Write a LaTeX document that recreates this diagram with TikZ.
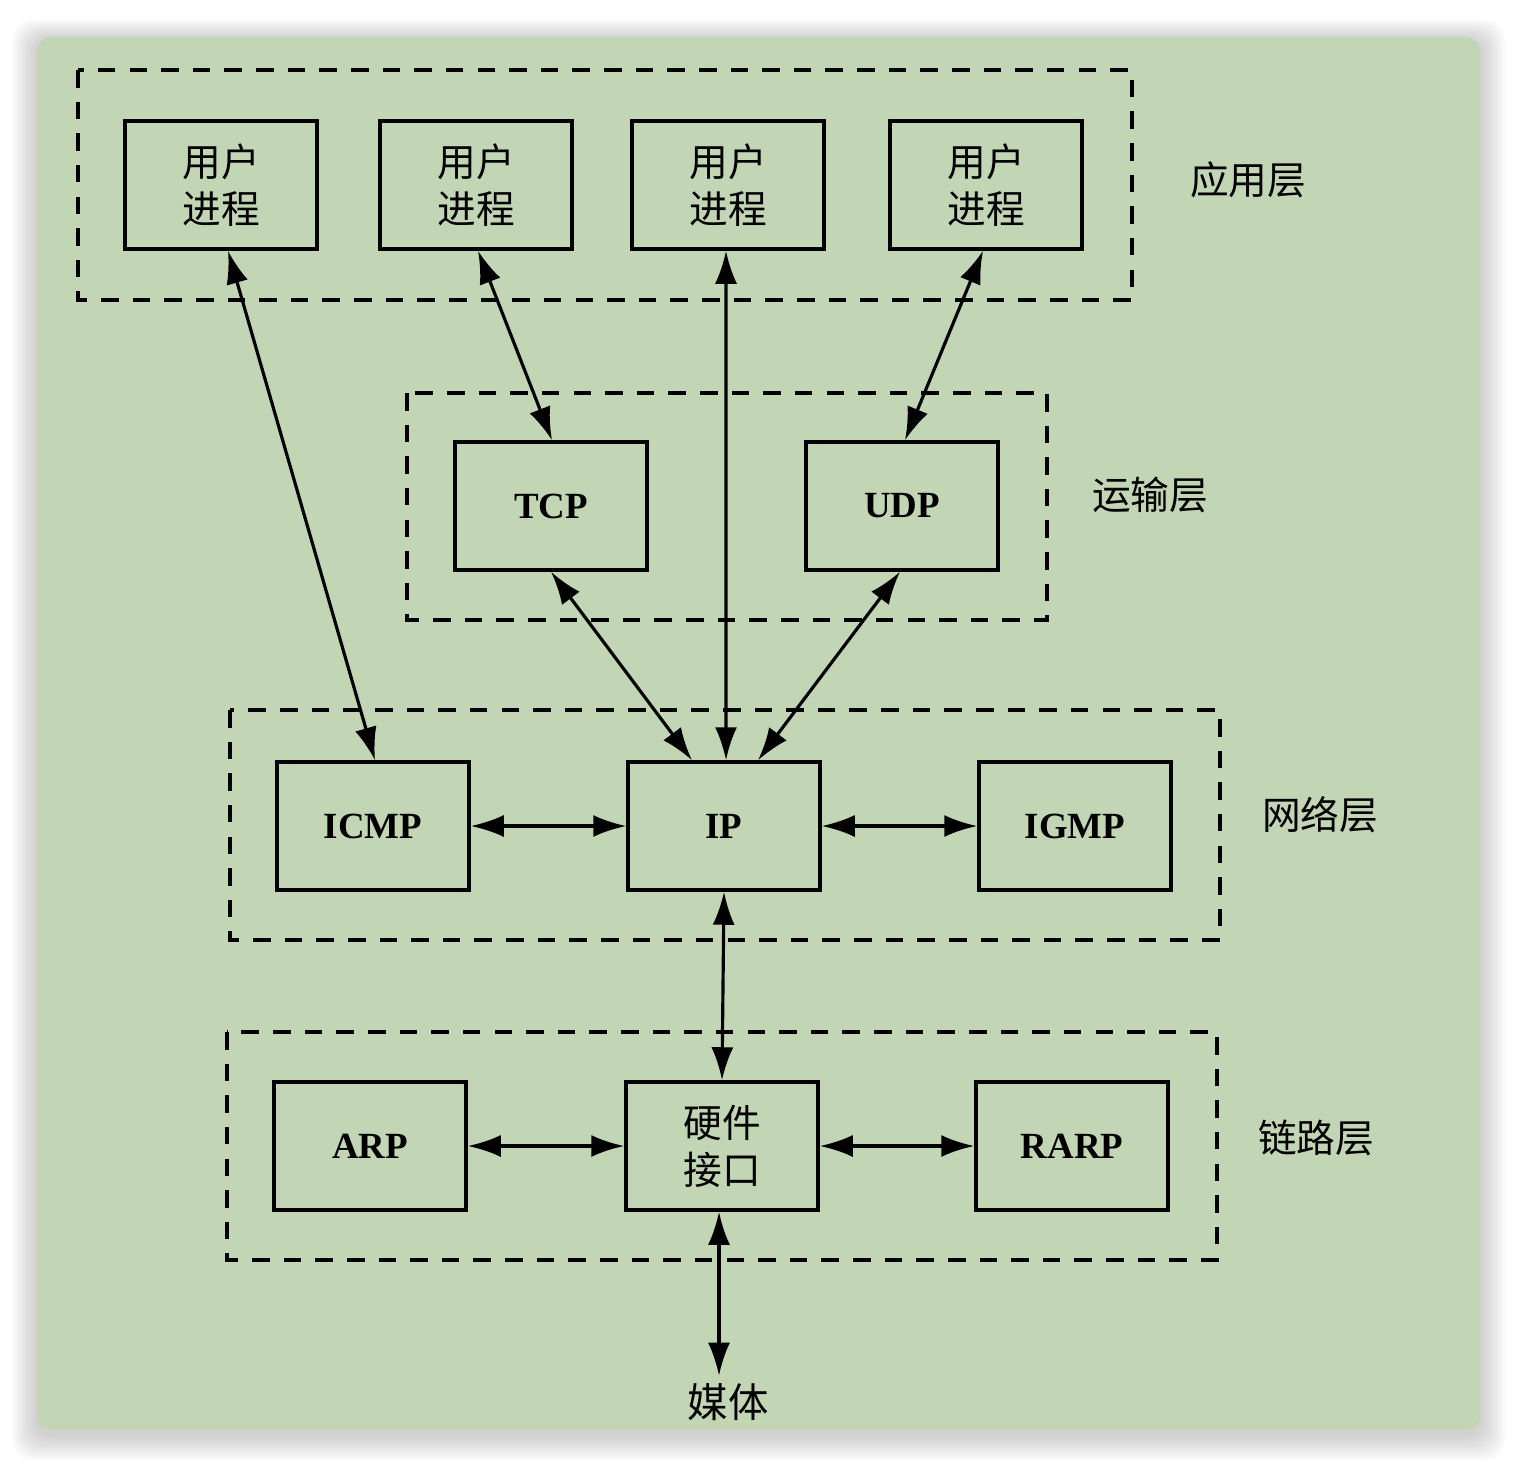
\documentclass[tikz,border=0pt]{standalone}
\usepackage{fontspec}
\setmainfont{Liberation Serif}
\newfontfamily\cjk{Noto Sans CJK SC}
\usepackage{tikz}
\usetikzlibrary{arrows.meta, positioning}
\definecolor{panelgreen}{HTML}{C2D5B4}

\begin{document}
\begin{tikzpicture}[>={Latex[length=3.3mm,width=2.2mm]},
    layerbox/.style={draw, line width=1.1pt, dash pattern=on 5pt off 4pt},
    unit/.style={draw, line width=1pt, minimum width=1.92cm, minimum height=1.28cm,
      inner sep=0pt, font=\fontsize{10.5}{13}\selectfont\bfseries},
    proc/.style={unit, font=\cjk\fontsize{11}{13.4}\selectfont, align=center},
    layername/.style={font=\cjk\fontsize{11}{13}\selectfont},
    link/.style={<->, line width=0.9pt}]
    \useasboundingbox (0,0) rectangle (15.16,14.68);

    % Panel with soft shadow
    \foreach \s in {1,...,10}
      \fill[black, opacity=0.018, rounded corners=0.2cm]
        (0.37-\s*0.025, 0.33-\s*0.025) rectangle (14.80+\s*0.025, 14.28+\s*0.02);
    \fill[panelgreen, rounded corners=0.15cm] (0.37, 0.38) rectangle (14.80, 14.31);

    % Dashed layer frames
    \draw[layerbox] (0.78, 13.98) rectangle (11.32, 11.68);
    \draw[layerbox] (4.07, 10.75) rectangle (10.47, 8.48);
    \draw[layerbox] (2.30, 7.58) rectangle (12.20, 5.28);
    \draw[layerbox] (2.27, 4.36) rectangle (12.17, 2.08);

    % Layer names
    \node[layername] (applayer) at (12.48, 12.88) {应用层};
    \node[layername] (translayer) at (11.50, 9.73) {运输层};
    \node[layername] (netlayer) at (13.20, 6.53) {网络层};
    \node[layername] (linklayer) at (13.16, 3.30) {链路层};

    % Application layer
    \node[proc] (up1) at (2.21, 12.83) {用户\\进程};
    \node[proc] (up2) at (4.76, 12.83) {用户\\进程};
    \node[proc] (up3) at (7.28, 12.83) {用户\\进程};
    \node[proc] (up4) at (9.86, 12.83) {用户\\进程};

    % Transport layer
    \node[unit] (tcp) at (5.51, 9.62) {TCP};
    \node[unit] (udp) at (9.02, 9.62) {UDP};

    % Network layer
    \node[unit] (icmp) at (3.73, 6.42) {ICMP};
    \node[unit] (ip) at (7.24, 6.42) {IP};
    \node[unit] (igmp) at (10.75, 6.42) {IGMP};

    % Link layer
    \node[unit] (arp) at (3.70, 3.22) {ARP};
    \node[proc] (hw) at (7.22, 3.22) {硬件\\接口};
    \node[unit] (rarp) at (10.72, 3.22) {RARP};

    \node[font=\cjk\fontsize{11.5}{13}\selectfont, inner sep=2pt] (media) at (7.28, 0.66) {媒体};

    % Connections
    \draw[link] ([xshift=0.07cm]up1.south) -- ([xshift=0.02cm]icmp.north);
    \draw[link] ([xshift=0.02cm]up2.south) -- ([xshift=0.01cm]tcp.north);
    \draw[link] ([xshift=-0.02cm]up3.south) -- ([xshift=0.02cm]ip.north);
    \draw[link] ([xshift=-0.03cm]up4.south) -- ([xshift=0.03cm]udp.north);
    \draw[link] (tcp.south) -- ([xshift=-0.32cm]ip.north);
    \draw[link] ([xshift=-0.02cm]udp.south) -- ([xshift=0.34cm]ip.north);
    \draw[link] (icmp.east) -- (ip.west);
    \draw[link] (ip.east) -- (igmp.west);
    \draw[link] (ip.south) -- (hw.north);
    \draw[link] (arp.east) -- (hw.west);
    \draw[link] (hw.east) -- (rarp.west);
    \draw[link] ([xshift=-0.03cm]hw.south) -- ([xshift=-0.09cm]media.north);
\end{tikzpicture}
\end{document}
